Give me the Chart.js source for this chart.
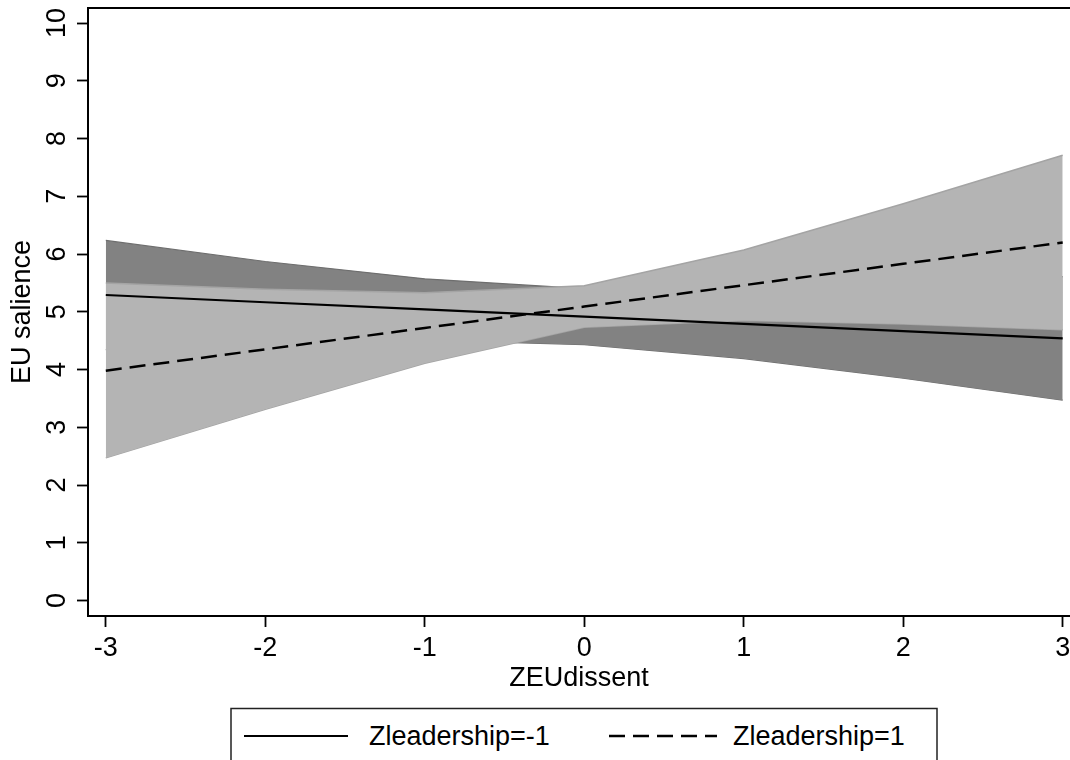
<!DOCTYPE html>
<html>
<head>
<meta charset="utf-8">
<script src="https://cdn.jsdelivr.net/npm/chart.js@4.4.1/dist/chart.umd.min.js"></script>
<style>
  html, body { margin: 0; padding: 0; background: #fff; overflow: hidden; }
  #wrap { position: relative; width: 1070px; height: 760px; }
  #legend { position: absolute; left: 0; top: 0; pointer-events: none; }
</style>
</head>
<body>
<div id="wrap">
  <canvas id="chart" width="1070" height="760"></canvas>
  <svg id="legend" width="1070" height="760" xmlns="http://www.w3.org/2000/svg"></svg>
</div>
<script>
// === DATA ===
const xValues = [-3, -2, -1, 0, 1, 2, 3];
const xTicks = [-3, -2, -1, 0, 1, 2, 3];
const yTicks = [0, 1, 2, 3, 4, 5, 6, 7, 8, 9, 10];

// Zleadership = -1
const lowFit = [5.29, 5.165, 5.04, 4.915, 4.79, 4.665, 4.54];
const lowUpper = [6.235, 5.87, 5.57, 5.40, 5.39, 5.48, 5.61];
const lowLower = [4.345, 4.46, 4.51, 4.43, 4.19, 3.85, 3.47];

// Zleadership = 1
const highFit = [3.98, 4.35, 4.72, 5.09, 5.46, 5.83, 6.20];
const highUpper = [5.50, 5.39, 5.33, 5.45, 6.07, 6.87, 7.71];
const highLower = [2.47, 3.31, 4.11, 4.73, 4.85, 4.79, 4.69];

const FONT = "'Liberation Sans', Arial, Helvetica, sans-serif";
const pts = arr => xValues.map((x, i) => ({ x, y: arr[i] }));

// === TOP FRAME LINE ===
const frameTop = {
  id: "frameTop",
  afterDraw(chart) {
    const { ctx, chartArea: a } = chart;
    ctx.save();
    ctx.strokeStyle = "#000";
    ctx.lineWidth = 2;
    ctx.beginPath();
    ctx.moveTo(a.left - 1, a.top);
    ctx.lineTo(a.right, a.top);
    ctx.stroke();
    ctx.restore();
  }
};

// keep the plot box fixed: no extra room for edge labels
const noEdgePad = s => { s.paddingLeft = 0; s.paddingRight = 0; s.paddingTop = 0; s.paddingBottom = 0; };

// === CHART ===
const chart = new Chart(document.getElementById("chart"), {
  type: "line",
  data: {
    datasets: [
      { data: pts(lowUpper), fill: "+1", backgroundColor: "#828282", borderColor: "#6e6e6e", borderWidth: 1.2, order: 3 },
      { data: pts(lowLower), fill: false, borderColor: "#6e6e6e", borderWidth: 1.2, order: 3 },
      { data: pts(highUpper), fill: "+1", backgroundColor: "#b4b4b4", borderColor: "#a4a4a4", borderWidth: 1.5, order: 2 },
      { data: pts(highLower), fill: false, borderColor: "#a4a4a4", borderWidth: 1.5, order: 2 },
      { label: "Zleadership=-1", data: pts(lowFit), fill: false, borderColor: "#000", borderWidth: 2.2, order: 1 },
      { label: "Zleadership=1", data: pts(highFit), fill: false, borderColor: "#000", borderWidth: 2.5, borderDash: [16, 8], order: 0 }
    ]
  },
  options: {
    responsive: false,
    animation: false,
    devicePixelRatio: 1,
    layout: { padding: { top: 8, right: 0, bottom: 54, left: 0 } },
    elements: { point: { radius: 0, hoverRadius: 0 }, line: { tension: 0 } },
    plugins: { legend: { display: false }, tooltip: { enabled: false } },
    scales: {
      x: {
        type: "linear",
        min: -3.1116,
        max: 3.0458,
        afterBuildTicks: s => { s.ticks = xTicks.map(v => ({ value: v })); },
        afterFit: s => { s.height = 90; noEdgePad(s); },
        grid: { drawOnChartArea: false, drawTicks: true, tickLength: 11, tickColor: "#000", tickWidth: 1.8 },
        border: { color: "#000", width: 2 },
        ticks: { color: "#000", font: { family: FONT, size: 27 }, padding: 5, maxRotation: 0, autoSkip: false },
        title: { display: true, text: "ZEUdissent", color: "#000", font: { family: FONT, size: 27 }, padding: { top: 0, bottom: 11 } }
      },
      y: {
        min: -0.268,
        max: 10.26,
        afterBuildTicks: s => { s.ticks = yTicks.map(v => ({ value: v })); },
        afterFit: s => { s.width = 88; noEdgePad(s); },
        grid: { drawOnChartArea: false, drawTicks: true, tickLength: 11, tickColor: "#000", tickWidth: 1.8 },
        border: { color: "#000", width: 2 },
        ticks: { color: "#000", font: { family: FONT, size: 27 }, padding: 4.5, minRotation: 90, maxRotation: 90, crossAlign: "center", autoSkip: false },
        title: { display: true, text: "EU salience", color: "#000", font: { family: FONT, size: 27 }, padding: { top: 6.8, bottom: 6.8 } }
      }
    }
  },
  plugins: [frameTop]
});

// === LEGEND (svg, built from the line datasets) ===
const svg = document.getElementById("legend");
const NS = "http://www.w3.org/2000/svg";
function el(tag, attrs, text) {
  const n = document.createElementNS(NS, tag);
  Object.entries(attrs).forEach(([k, v]) => n.setAttribute(k, v));
  if (text) n.textContent = text;
  svg.appendChild(n);
  return n;
}
el("rect", { x: 231, y: 708.5, width: 706, height: 80, fill: "#fff", stroke: "#222", "stroke-width": 1.5 });
const slots = [{ x0: 244, x1: 348, tx: 369 }, { x0: 609, x1: 717, tx: 733 }];
chart.data.datasets.filter(d => d.label).forEach((d, i) => {
  const s = slots[i];
  el("line", {
    x1: s.x0, y1: 736, x2: s.x1, y2: 736, stroke: d.borderColor, "stroke-width": d.borderWidth,
    "stroke-dasharray": d.borderDash ? d.borderDash.join(" ") : "none"
  });
  el("text", { x: s.tx, y: 745, "font-family": FONT, "font-size": 27, fill: "#000" }, d.label);
});
</script>
</body>
</html>
